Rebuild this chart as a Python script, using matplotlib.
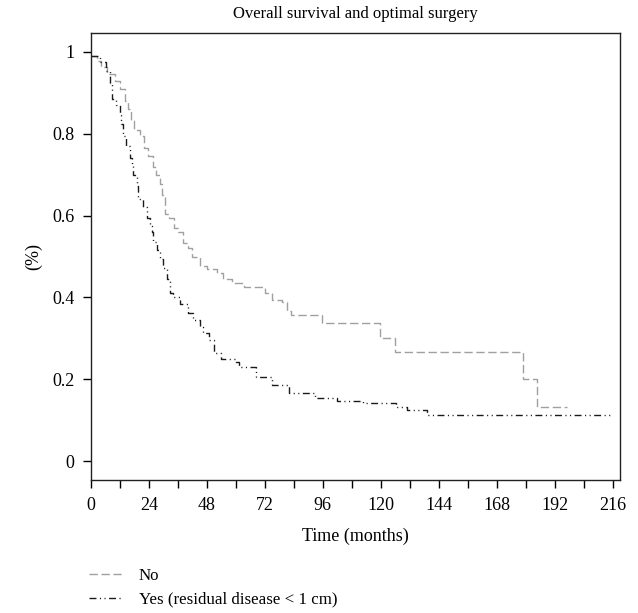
import matplotlib
matplotlib.use("Agg")
import matplotlib.pyplot as plt

plt.rcParams['font.family'] = ['Liberation Serif', 'DejaVu Serif']

# "No" group (gray dashed) : event times (months) and survival after each step
no_t = [0, 2.5, 4, 6.5, 10, 12, 14, 15.3, 16.5, 18, 20.5, 22, 23.6, 25.5, 27,
        28.5, 29.5, 30.5, 32.5, 34.5, 36, 38, 40, 42, 45, 48, 52, 54.5, 58.5,
        63.5, 72, 75, 79, 81, 83, 95.6, 119.5, 126, 178.7, 184.5, 197.3]
no_s = [0.99, 0.978, 0.963, 0.946, 0.93, 0.91, 0.88, 0.86, 0.83, 0.81, 0.795,
        0.766, 0.746, 0.72, 0.70, 0.678, 0.65, 0.605, 0.595, 0.57, 0.56, 0.534,
        0.52, 0.50, 0.478, 0.47, 0.459, 0.445, 0.435, 0.425, 0.41, 0.393, 0.388,
        0.368, 0.356, 0.337, 0.30, 0.266, 0.20, 0.132, 0.132]

# "Yes" group (black dash-dot-dot)
yes_t = [0, 3.7, 6.2, 7.9, 8.7, 10.3, 12, 12.4, 13.2, 14.5, 16, 17, 17.5, 19,
         19.4, 21.5, 23.2, 24.4, 25.2, 25.6, 27.3, 28.5, 29.8, 31.4, 32.7, 34,
         37, 40, 42.4, 45, 46.3, 49, 51, 54, 60, 61.2, 68.5, 75, 82, 92.7, 102,
         112.5, 126.5, 131, 139, 215]
yes_s = [0.99, 0.975, 0.953, 0.925, 0.886, 0.87, 0.845, 0.825, 0.795, 0.77,
         0.74, 0.727, 0.70, 0.673, 0.64, 0.62, 0.595, 0.575, 0.56, 0.535, 0.517,
         0.493, 0.473, 0.446, 0.412, 0.40, 0.385, 0.363, 0.344, 0.327, 0.312,
         0.295, 0.265, 0.25, 0.242, 0.23, 0.205, 0.185, 0.166, 0.155, 0.148,
         0.141, 0.132, 0.124, 0.113, 0.113]

x_ticks = list(range(0, 217, 24))
x_minor = list(range(0, 217, 12))
y_ticks = [0, 0.2, 0.4, 0.6, 0.8, 1]
y_labels = ["0", "0.2", "0.4", "0.6", "0.8", "1"]

title = "Overall survival and optimal surgery"
xlabel = "Time (months)"
ylabel = "(%)"
labels = ["No", "Yes (residual disease < 1 cm)"]

fig = plt.figure(figsize=(6.38, 6.13), dpi=100)
ax = fig.add_axes([0.1426, 0.217, 0.829, 0.729])

no_color = "#a0a0a0"
yes_color = "#1a1a1a"

l1, = ax.step(no_t, no_s, where='post', color=no_color, lw=1.0,
              linestyle=(0, (6, 2.6)))
l2, = ax.step(yes_t, yes_s, where='post', color=yes_color, lw=1.0,
              linestyle=(0, (5, 2.5, 0.8, 2.5, 0.8, 2.5)))

ax.set_xlim(0, 219)
ax.set_ylim(-0.046, 1.046)
ax.set_xticks(x_ticks)
ax.set_xticks(x_minor, minor=True)
ax.set_yticks(y_ticks)
ax.set_yticklabels(y_labels)
ax.tick_params(axis='both', which='both', direction='out', length=6, width=1,
               labelsize=13, top=False, right=False)
ax.tick_params(axis='x', pad=6)
ax.tick_params(axis='y', pad=6)
for sp in ax.spines.values():
    sp.set_linewidth(1.0)
    sp.set_color('#222222')

ax.set_title(title, fontsize=12, pad=11)
ax.set_xlabel(xlabel, fontsize=13, labelpad=10)
ax.set_ylabel(ylabel, fontsize=13, labelpad=7)

fig.legend([l1, l2], labels, loc='upper left', bbox_to_anchor=(0.139, 0.073),
           frameon=False, fontsize=12.2, handlelength=2.0, handletextpad=0.95,
           labelspacing=0.45, borderpad=0, borderaxespad=0)

fig.savefig("out.png", dpi=100)
